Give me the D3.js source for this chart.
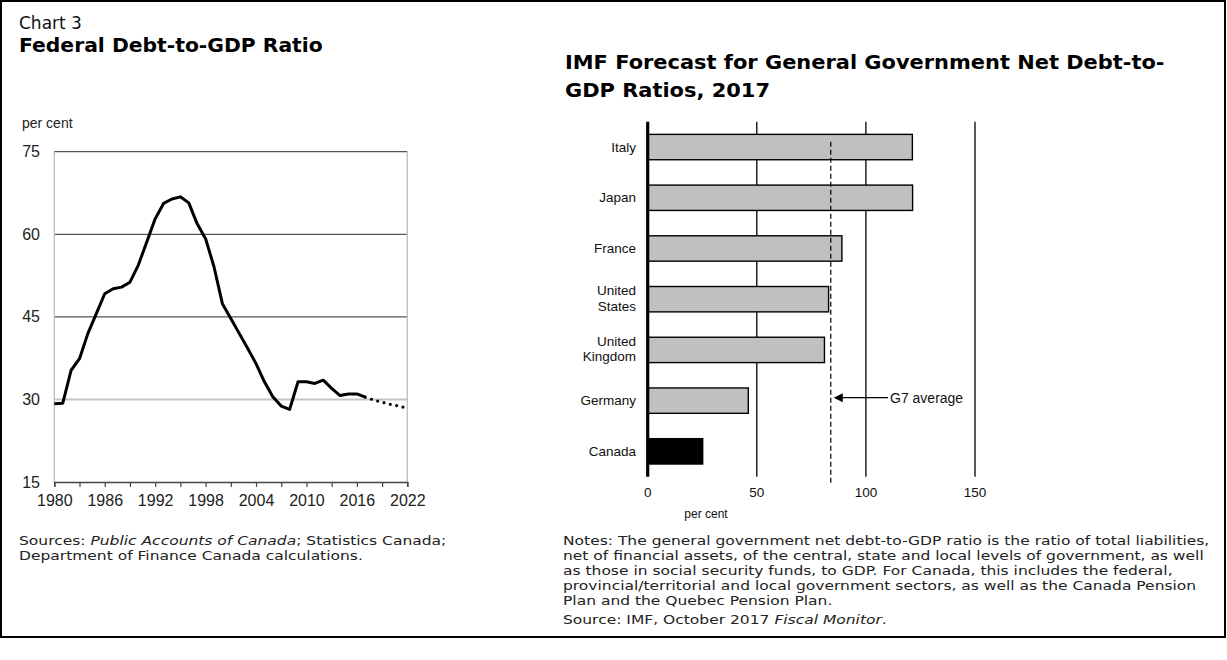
<!DOCTYPE html>
<html>
<head>
<meta charset="utf-8">
<script src="https://cdn.jsdelivr.net/npm/d3@7/dist/d3.min.js"></script>
<style>
  html, body { margin: 0; padding: 0; background: #fff; }
  svg { display: block; }
  .arial { font-family: "Liberation Sans", Arial, sans-serif; }
  .gothic { font-family: "DejaVu Sans", "Noto Sans", sans-serif; }
</style>
</head>
<body>
<svg id="chart" width="1227" height="660"></svg>
<script>
// ---- Federal debt-to-GDP ratio (per cent) ----
const years = [1980, 1981, 1982, 1983, 1984, 1985, 1986, 1987, 1988, 1989,
               1990, 1991, 1992, 1993, 1994, 1995, 1996, 1997, 1998, 1999,
               2000, 2001, 2002, 2003, 2004, 2005, 2006, 2007, 2008, 2009,
               2010, 2011, 2012, 2013, 2014, 2015, 2016, 2017];
const debtRatio = [29.2, 29.3, 35.3, 37.4, 42.0, 45.6, 49.2, 50.1, 50.4, 51.3,
                   54.4, 58.6, 62.8, 65.6, 66.4, 66.8, 65.7, 61.9, 59.2, 54.1,
                   47.4, 44.7, 42.0, 39.3, 36.5, 33.2, 30.5, 28.8, 28.2, 33.2,
                   33.2, 32.9, 33.5, 32.0, 30.7, 31.0, 31.0, 30.4];
const projYears = [2017, 2018, 2019, 2020, 2021, 2022];
const projRatio = [30.4, 29.9, 29.5, 29.1, 28.8, 28.4];
const yTicksLeft = [15, 30, 45, 60, 75];
const xLabelYears = [1980, 1986, 1992, 1998, 2004, 2010, 2016, 2022];
const xTickYears = [1980, 1983, 1986, 1989, 1992, 1995, 1998, 2001, 2004, 2007,
                    2010, 2013, 2016, 2019, 2022];

// ---- IMF forecast, general government net debt-to-GDP, 2017 ----
const countries = ["Italy", "Japan", "France", "United States", "United Kingdom", "Germany", "Canada"];
const netDebt = [121.3, 121.4, 89.0, 82.9, 81.0, 46.1, 25.2];
const g7Average = 83.9;
const xTicksRight = [0, 50, 100, 150];

const svg = d3.select("#chart");

// horizontal stretch about the text's x position
function stretch(node, sx) {
  const x = +node.getAttribute("x");
  d3.select(node).attr("transform",
    `translate(${x},0) scale(${sx},1) translate(${-x},0)`);
}
// stretch a text element so it spans the given width; returns the factor
function fitWidth(node, width) {
  const sx = width / node.getComputedTextLength();
  stretch(node, sx);
  return sx;
}

// outer frame
svg.append("rect")
  .attr("x", 1).attr("y", 1).attr("width", 1224).attr("height", 636)
  .attr("fill", "none").attr("stroke", "#000").attr("stroke-width", 2);

// ---------- titles ----------
svg.append("text").attr("class", "gothic")
  .attr("x", 19).attr("y", 29).attr("font-size", 17).attr("fill", "#111")
  .text("Chart 3");
const t1 = svg.append("text").attr("class", "gothic")
  .attr("x", 19).attr("y", 52).attr("font-size", 19).attr("font-weight", "bold").attr("fill", "#000")
  .text("Federal Debt-to-GDP Ratio");
fitWidth(t1.node(), 304);
const t2 = svg.append("text").attr("class", "gothic")
  .attr("x", 565).attr("y", 69).attr("font-size", 19).attr("font-weight", "bold").attr("fill", "#000")
  .text("IMF Forecast for General Government Net Debt-to-");
const titleScale = fitWidth(t2.node(), 600);
const t3 = svg.append("text").attr("class", "gothic")
  .attr("x", 565).attr("y", 97).attr("font-size", 19).attr("font-weight", "bold").attr("fill", "#000")
  .text("GDP Ratios, 2017");
stretch(t3.node(), titleScale);

// ---------- left chart: line ----------
const xL = d3.scaleLinear().domain([1980, 2022]).range([54.3, 407.3]);
const yL = d3.scaleLinear().domain([15, 75]).range([482, 151.7]);

const gL = svg.append("g");

// gridlines
gL.append("g").selectAll("line")
  .data(yTicksLeft.filter(v => v > 15))
  .join("line")
  .attr("x1", xL(1980)).attr("x2", xL(2022))
  .attr("y1", d => yL(d)).attr("y2", d => yL(d))
  .attr("stroke", d => d === 30 ? "#c4c4c4" : "#555")
  .attr("stroke-width", d => d === 30 ? 2 : 1.3);

// left and right frame edges
gL.append("line")
  .attr("x1", xL(1980)).attr("x2", xL(1980)).attr("y1", yL(75)).attr("y2", yL(15))
  .attr("stroke", "#bdbdbd").attr("stroke-width", 1.3);
gL.append("line")
  .attr("x1", xL(2022)).attr("x2", xL(2022)).attr("y1", yL(75)).attr("y2", yL(15))
  .attr("stroke", "#bdbdbd").attr("stroke-width", 1.3);

// y-axis labels
gL.append("g").selectAll("text")
  .data(yTicksLeft)
  .join("text").attr("class", "arial")
  .attr("x", 40).attr("y", d => yL(d)).attr("dy", "0.35em")
  .attr("text-anchor", "end").attr("font-size", 16).attr("fill", "#222")
  .text(d => d);

gL.append("text").attr("class", "arial")
  .attr("x", 22).attr("y", 128).attr("font-size", 14).attr("fill", "#222")
  .text("per cent");

// bottom axis
const xAxisL = d3.axisBottom(xL)
  .tickValues(xTickYears)
  .tickSize(5)
  .tickFormat(d => xLabelYears.includes(d) ? d : "");
const axL = gL.append("g").attr("transform", `translate(0,${yL(15)})`).call(xAxisL);
axL.select(".domain").attr("stroke", "#444").attr("stroke-width", 1.4);
axL.selectAll(".tick line").attr("stroke", "#444").attr("stroke-width", 1.2);
axL.selectAll(".tick text")
  .attr("class", "arial").attr("font-size", 16).attr("fill", "#222")
  .attr("y", 13).attr("dy", "0.71em");

// data line (actuals) and projection (dotted)
const lineGen = d3.line().x(d => xL(d[0])).y(d => yL(d[1]));
gL.append("path")
  .datum(years.map((y, i) => [y, debtRatio[i]]))
  .attr("d", lineGen)
  .attr("fill", "none").attr("stroke", "#000").attr("stroke-width", 3)
  .attr("stroke-linejoin", "round");
gL.append("path")
  .datum(projYears.map((y, i) => [y, projRatio[i]]))
  .attr("d", lineGen)
  .attr("fill", "none").attr("stroke", "#000").attr("stroke-width", 3.2)
  .attr("stroke-linecap", "round").attr("stroke-dasharray", "0,6.5");

// ---------- right chart: horizontal bars ----------
const xR = d3.scaleLinear().domain([0, 150]).range([647.7, 975]);
const yR = d3.scaleBand().domain(countries).range([121.7, 476.7]).paddingInner(0.5).paddingOuter(0.25);

const gR = svg.append("g");

// vertical gridlines
gR.append("g").selectAll("line")
  .data(xTicksRight.filter(v => v > 0))
  .join("line")
  .attr("x1", d => xR(d)).attr("x2", d => xR(d))
  .attr("y1", 121.7).attr("y2", 476.7)
  .attr("stroke", "#000").attr("stroke-width", 1.3);

// bars
gR.append("g").selectAll("rect")
  .data(countries)
  .join("rect")
  .attr("x", xR(0))
  .attr("y", d => yR(d))
  .attr("width", (d, i) => xR(netDebt[i]) - xR(0))
  .attr("height", yR.bandwidth())
  .attr("fill", d => d === "Canada" ? "#000" : "#c0c0c0")
  .attr("stroke", "#000").attr("stroke-width", 1.4);

// zero axis
gR.append("line")
  .attr("x1", xR(0)).attr("x2", xR(0)).attr("y1", 121.7).attr("y2", 476.7)
  .attr("stroke", "#000").attr("stroke-width", 3.2);

// G7 average marker
gR.append("line")
  .attr("x1", xR(g7Average)).attr("x2", xR(g7Average))
  .attr("y1", 141.7).attr("y2", 485)
  .attr("stroke", "#000").attr("stroke-width", 1.2).attr("stroke-dasharray", "5,3");
const arrowY = (yR("Germany") + yR.bandwidth() / 2) - 3;
gR.append("line")
  .attr("x1", xR(g7Average) + 10).attr("x2", 888)
  .attr("y1", arrowY).attr("y2", arrowY)
  .attr("stroke", "#000").attr("stroke-width", 1.2);
const tipX = xR(g7Average) + 3;
gR.append("path")
  .attr("d", `M${tipX},${arrowY} L${tipX + 9},${arrowY - 4.5} L${tipX + 9},${arrowY + 4.5} Z`)
  .attr("fill", "#000");
gR.append("text").attr("class", "arial")
  .attr("x", 890).attr("y", arrowY).attr("dy", "0.35em")
  .attr("font-size", 14).attr("fill", "#111").text("G7 average");

// category labels (two-word names split over two lines)
const catLabels = gR.append("g").selectAll("text")
  .data(countries)
  .join("text").attr("class", "arial")
  .attr("x", 636)
  .attr("y", d => yR(d) + yR.bandwidth() / 2)
  .attr("text-anchor", "end").attr("font-size", 13.5).attr("fill", "#111");
catLabels.each(function(d) {
  const parts = d.split(" ");
  const t = d3.select(this);
  if (parts.length === 1) {
    t.append("tspan").attr("x", 636).attr("dy", "0.35em").text(d);
  } else {
    t.append("tspan").attr("x", 636).attr("dy", "-0.3em").text(parts[0]);
    t.append("tspan").attr("x", 636).attr("dy", "1.15em").text(parts[1]);
  }
});

// x-axis labels
gR.append("g").selectAll("text")
  .data(xTicksRight)
  .join("text").attr("class", "arial")
  .attr("x", d => xR(d)).attr("y", 497)
  .attr("text-anchor", "middle").attr("font-size", 13.5).attr("fill", "#111")
  .text(d => d);
gR.append("text").attr("class", "arial")
  .attr("x", 706).attr("y", 518).attr("text-anchor", "middle")
  .attr("font-size", 12).attr("fill", "#111").text("per cent");

// notes (all body text shares one horizontal stretch)
const notes = [
  "Notes: The general government net debt-to-GDP ratio is the ratio of total liabilities,",
  "net of financial assets, of the central, state and local levels of government, as well",
  "as those in social security funds, to GDP. For Canada, this includes the federal,",
  "provincial/territorial and local government sectors, as well as the Canada Pension",
  "Plan and the Quebec Pension Plan."
];
const noteLines = gR.append("g").selectAll("text")
  .data(notes)
  .join("text").attr("class", "gothic")
  .attr("x", 563).attr("y", (d, i) => 545 + i * 15)
  .attr("font-size", 13).attr("fill", "#222")
  .text(d => d);
const bodyScale = fitWidth(noteLines.nodes()[0], 647);
noteLines.each(function(d, i) { if (i > 0) stretch(this, bodyScale); });

const srcR = gR.append("text").attr("class", "gothic").attr("font-size", 13).attr("fill", "#222")
  .attr("x", 563).attr("y", 624);
srcR.append("tspan").text("Source: IMF, October 2017 ");
srcR.append("tspan").attr("font-style", "italic").text("Fiscal Monitor");
srcR.append("tspan").text(".");
stretch(srcR.node(), bodyScale);

// left-hand sources
const srcL = gL.append("text").attr("class", "gothic").attr("font-size", 13).attr("fill", "#222")
  .attr("x", 19).attr("y", 545);
srcL.append("tspan").text("Sources: ");
srcL.append("tspan").attr("font-style", "italic").text("Public Accounts of Canada");
srcL.append("tspan").text("; Statistics Canada;");
stretch(srcL.node(), bodyScale);
const srcL2 = gL.append("text").attr("class", "gothic").attr("font-size", 13).attr("fill", "#222")
  .attr("x", 19).attr("y", 560).text("Department of Finance Canada calculations.");
stretch(srcL2.node(), bodyScale);
</script>
</body>
</html>
